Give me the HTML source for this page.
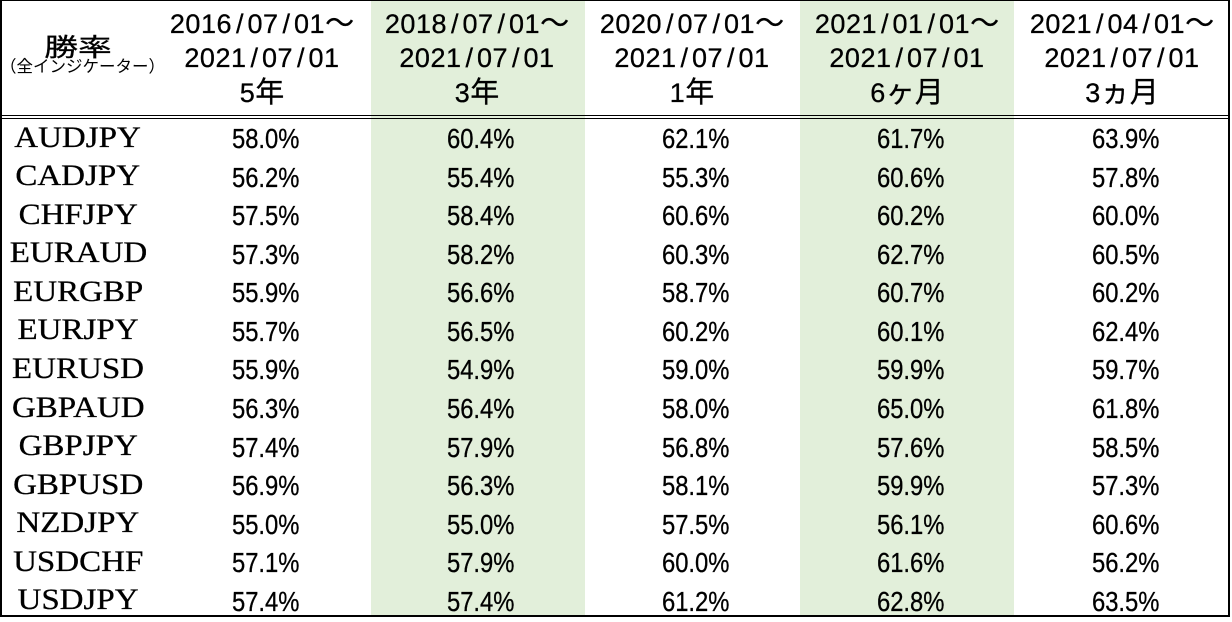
<!DOCTYPE html>
<html><head><meta charset="utf-8">
<style>
html,body{margin:0;padding:0;background:#fff;}
body{width:1232px;height:620px;position:relative;overflow:hidden;}
.frame{position:absolute;left:0;top:0;width:1230px;height:617px;box-sizing:border-box;border:2px solid #000;border-top-width:1.5px;}
.g{position:absolute;top:1px;height:614px;background:#e2efda;}
.hl{position:absolute;left:1px;width:1228px;height:1px;background:#000;}
.h{position:absolute;width:220px;text-align:center;font-size:27px;line-height:35px;letter-spacing:0.5px;font-family:"Liberation Sans","Noto Sans CJK JP",sans-serif;white-space:nowrap;color:#000;-webkit-text-stroke:0.3px #000;}
.h i{font-style:normal;display:inline-block;width:15.5px;text-align:center;letter-spacing:0;}
.h b{font-weight:normal;font-family:"Liberation Sans","Noto Sans CJK JP",sans-serif;font-size:29px;letter-spacing:0;}
.r{position:absolute;left:0;width:1232px;height:38.58px;}
.c{position:absolute;top:0;width:200px;text-align:center;line-height:38.58px;font-size:28px;font-family:"Liberation Sans",sans-serif;color:#000;white-space:nowrap;-webkit-text-stroke:0.3px #000;}
.c span{display:inline-block;transform:scaleX(0.85);}
.l{position:absolute;top:-1.5px;left:-22px;width:200px;text-align:center;line-height:38.58px;font-size:30px;font-family:"Liberation Serif",serif;color:#000;white-space:nowrap;-webkit-text-stroke:0.3px #000;}
.l span{display:inline-block;transform:scaleX(1.1);}
.c1{left:165.5px}.c2{left:380.5px}.c3{left:595.5px}.c4{left:810.5px}.c5{left:1025.5px}
.t1{position:absolute;left:0;width:156px;text-align:center;top:33px;font-size:25px;line-height:30px;font-family:"Liberation Sans","Noto Sans CJK JP",sans-serif;-webkit-text-stroke:0.3px #000;}
.t1 span{display:inline-block;transform:scaleX(1.35);}
.t2{position:absolute;left:0;width:158px;text-align:center;top:57.3px;font-size:16.5px;line-height:20px;font-family:"Liberation Sans","Noto Sans CJK JP",sans-serif;white-space:nowrap;}
</style></head><body>
<div class="g" style="left:371px;width:214px"></div>
<div class="g" style="left:800px;width:214px"></div>
<div class="frame"></div>
<div class="hl" style="top:115px"></div>
<div class="hl" style="top:117.5px"></div>

<div class="t1"><span>勝率</span></div>
<div class="t2">（全インジケーター）</div>

<div class="h" style="left:152px;top:6.8px">2016<i>/</i>07<i>/</i>01<b>～</b></div>
<div class="h" style="left:152px;top:41.3px">2021<i>/</i>07<i>/</i>01</div>
<div class="h" style="left:152px;top:75.8px">5<b>年</b></div>

<div class="h" style="left:367px;top:6.8px">2018<i>/</i>07<i>/</i>01<b>～</b></div>
<div class="h" style="left:367px;top:41.3px">2021<i>/</i>07<i>/</i>01</div>
<div class="h" style="left:367px;top:75.8px">3<b>年</b></div>

<div class="h" style="left:582px;top:6.8px">2020<i>/</i>07<i>/</i>01<b>～</b></div>
<div class="h" style="left:582px;top:41.3px">2021<i>/</i>07<i>/</i>01</div>
<div class="h" style="left:582px;top:75.8px">1<b>年</b></div>

<div class="h" style="left:797px;top:6.8px">2021<i>/</i>01<i>/</i>01<b>～</b></div>
<div class="h" style="left:797px;top:41.3px">2021<i>/</i>07<i>/</i>01</div>
<div class="h" style="left:797px;top:75.8px">6<b>ヶ月</b></div>

<div class="h" style="left:1012px;top:6.8px">2021<i>/</i>04<i>/</i>01<b>～</b></div>
<div class="h" style="left:1012px;top:41.3px">2021<i>/</i>07<i>/</i>01</div>
<div class="h" style="left:1012px;top:75.8px">3<b>ヵ月</b></div>

<div class="r" style="top:120px"><div class="l"><span>AUDJPY</span></div><div class="c c1"><span>58.0%</span></div><div class="c c2"><span>60.4%</span></div><div class="c c3"><span>62.1%</span></div><div class="c c4"><span>61.7%</span></div><div class="c c5"><span>63.9%</span></div></div>
<div class="r" style="top:158.58px"><div class="l"><span>CADJPY</span></div><div class="c c1"><span>56.2%</span></div><div class="c c2"><span>55.4%</span></div><div class="c c3"><span>55.3%</span></div><div class="c c4"><span>60.6%</span></div><div class="c c5"><span>57.8%</span></div></div>
<div class="r" style="top:197.16px"><div class="l"><span>CHFJPY</span></div><div class="c c1"><span>57.5%</span></div><div class="c c2"><span>58.4%</span></div><div class="c c3"><span>60.6%</span></div><div class="c c4"><span>60.2%</span></div><div class="c c5"><span>60.0%</span></div></div>
<div class="r" style="top:235.74px"><div class="l"><span>EURAUD</span></div><div class="c c1"><span>57.3%</span></div><div class="c c2"><span>58.2%</span></div><div class="c c3"><span>60.3%</span></div><div class="c c4"><span>62.7%</span></div><div class="c c5"><span>60.5%</span></div></div>
<div class="r" style="top:274.32px"><div class="l"><span>EURGBP</span></div><div class="c c1"><span>55.9%</span></div><div class="c c2"><span>56.6%</span></div><div class="c c3"><span>58.7%</span></div><div class="c c4"><span>60.7%</span></div><div class="c c5"><span>60.2%</span></div></div>
<div class="r" style="top:312.9px"><div class="l"><span>EURJPY</span></div><div class="c c1"><span>55.7%</span></div><div class="c c2"><span>56.5%</span></div><div class="c c3"><span>60.2%</span></div><div class="c c4"><span>60.1%</span></div><div class="c c5"><span>62.4%</span></div></div>
<div class="r" style="top:351.48px"><div class="l"><span>EURUSD</span></div><div class="c c1"><span>55.9%</span></div><div class="c c2"><span>54.9%</span></div><div class="c c3"><span>59.0%</span></div><div class="c c4"><span>59.9%</span></div><div class="c c5"><span>59.7%</span></div></div>
<div class="r" style="top:390.06px"><div class="l"><span>GBPAUD</span></div><div class="c c1"><span>56.3%</span></div><div class="c c2"><span>56.4%</span></div><div class="c c3"><span>58.0%</span></div><div class="c c4"><span>65.0%</span></div><div class="c c5"><span>61.8%</span></div></div>
<div class="r" style="top:428.64px"><div class="l"><span>GBPJPY</span></div><div class="c c1"><span>57.4%</span></div><div class="c c2"><span>57.9%</span></div><div class="c c3"><span>56.8%</span></div><div class="c c4"><span>57.6%</span></div><div class="c c5"><span>58.5%</span></div></div>
<div class="r" style="top:467.22px"><div class="l"><span>GBPUSD</span></div><div class="c c1"><span>56.9%</span></div><div class="c c2"><span>56.3%</span></div><div class="c c3"><span>58.1%</span></div><div class="c c4"><span>59.9%</span></div><div class="c c5"><span>57.3%</span></div></div>
<div class="r" style="top:505.8px"><div class="l"><span>NZDJPY</span></div><div class="c c1"><span>55.0%</span></div><div class="c c2"><span>55.0%</span></div><div class="c c3"><span>57.5%</span></div><div class="c c4"><span>56.1%</span></div><div class="c c5"><span>60.6%</span></div></div>
<div class="r" style="top:544.38px"><div class="l"><span>USDCHF</span></div><div class="c c1"><span>57.1%</span></div><div class="c c2"><span>57.9%</span></div><div class="c c3"><span>60.0%</span></div><div class="c c4"><span>61.6%</span></div><div class="c c5"><span>56.2%</span></div></div>
<div class="r" style="top:582.96px"><div class="l"><span>USDJPY</span></div><div class="c c1"><span>57.4%</span></div><div class="c c2"><span>57.4%</span></div><div class="c c3"><span>61.2%</span></div><div class="c c4"><span>62.8%</span></div><div class="c c5"><span>63.5%</span></div></div>
</body></html>
